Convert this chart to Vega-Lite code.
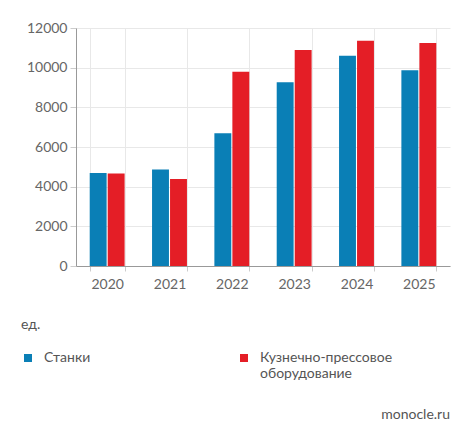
{
  "$schema": "https://vega.github.io/schema/vega-lite/v6.json",
  "autosize": {"type": "none"},
  "width": 374,
  "height": 238,
  "padding": {"left": 76, "top": 28, "right": 24, "bottom": 173},
  "background": "white",
  "data": {"values": [
    {"year": "2020", "type": "Станки", "value": 4690},
    {"year": "2020", "type": "Кузнечно-прессовое оборудование", "value": 4660},
    {"year": "2021", "type": "Станки", "value": 4860},
    {"year": "2021", "type": "Кузнечно-прессовое оборудование", "value": 4390},
    {"year": "2022", "type": "Станки", "value": 6690},
    {"year": "2022", "type": "Кузнечно-прессовое оборудование", "value": 9800},
    {"year": "2023", "type": "Станки", "value": 9260},
    {"year": "2023", "type": "Кузнечно-прессовое оборудование", "value": 10890},
    {"year": "2024", "type": "Станки", "value": 10600},
    {"year": "2024", "type": "Кузнечно-прессовое оборудование", "value": 11360},
    {"year": "2025", "type": "Станки", "value": 9870},
    {"year": "2025", "type": "Кузнечно-прессовое оборудование", "value": 11240}
  ]},
  "title": {
    "text": "monocle.ru",
    "orient": "bottom",
    "anchor": "end",
    "offset": 27,
    "font": "Lato",
    "fontSize": 14,
    "fontWeight": "normal",
    "color": "#555555"
  },
  "mark": {"type": "bar"},
  "encoding": {
    "x": {
      "field": "year", "type": "nominal", "title": null,
      "scale": {"paddingInner": 0.44, "paddingOuter": 0.22},
      "axis": {"labelAngle": 0, "tickBand": "extent", "grid": true, "labelPadding": 6, "tickSize": 5}
    },
    "xOffset": {"field": "type", "type": "nominal", "sort": ["Станки", "Кузнечно-прессовое оборудование"], "scale": {"paddingInner": 0.06}},
    "y": {
      "field": "value", "type": "quantitative", "title": null,
      "scale": {"domain": [0, 12000]},
      "axis": {"values": [0, 2000, 4000, 6000, 8000, 10000, 12000], "format": "d", "tickSize": 6, "labelPadding": 3}
    },
    "color": {
      "field": "type", "type": "nominal",
      "sort": ["Станки", "Кузнечно-прессовое оборудование"],
      "scale": {"range": ["#0a7fb6", "#e41e26"]},
      "legend": {
        "title": "ед.",
        "orient": "none",
        "legendX": -55,
        "legendY": 290,
        "direction": "horizontal",
        "columns": 2,
        "columnPadding": 146,
        "symbolType": "square",
        "symbolSize": 64,
        "symbolStrokeWidth": 0,
        "symbolOpacity": 1,
        "titleFont": "Lato",
        "titleFontSize": 14,
        "titleFontWeight": "normal",
        "titleColor": "#555555",
        "titlePadding": 19,
        "labelFont": "Lato",
        "labelFontSize": 14,
        "labelColor": "#555555",
        "labelOffset": 9,
        "labelLimit": 300,
        "labelBaseline": "middle",
        "labelExpr": "datum.label == 'Станки' ? ['Станки', ' '] : ['Кузнечно-прессовое', 'оборудование']"
      }
    }
  },
  "config": {
    "view": {"stroke": null},
    "axis": {
      "labelFont": "Lato",
      "labelFontSize": 14,
      "labelColor": "#666666",
      "domainColor": "#999999",
      "tickColor": "#cccccc",
      "gridColor": "#e8e8e8",
      "gridWidth": 1
    }
  }
}
